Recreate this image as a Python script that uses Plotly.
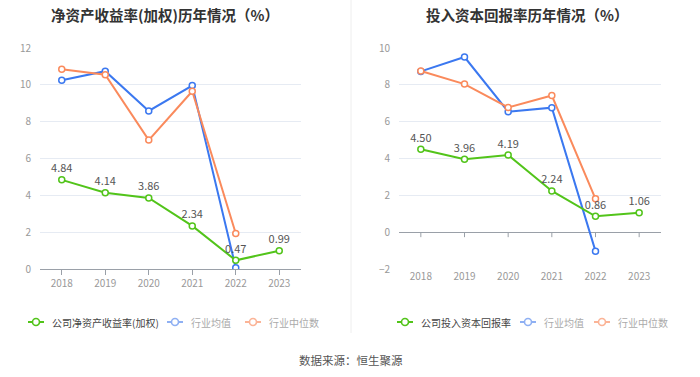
import plotly.graph_objects as go
from plotly.subplots import make_subplots

years = ["2018", "2019", "2020", "2021", "2022", "2023"]

roe_company = [4.84, 4.14, 3.86, 2.34, 0.47, 0.99]
roe_avg = [10.25, 10.74, 8.58, 9.96, 0.07, None]
roe_median = [10.84, 10.55, 7.00, 9.65, 1.93, None]

roic_company = [4.50, 3.96, 4.19, 2.24, 0.86, 1.06]
roic_avg = [8.73, 9.51, 6.54, 6.76, -1.03, None]
roic_median = [8.75, 8.04, 6.77, 7.42, 1.81, None]

title_left = "净资产收益率(加权)历年情况（%）"
title_right = "投入资本回报率历年情况（%）"
legend_left = ["公司净资产收益率(加权)", "行业均值", "行业中位数"]
legend_right = ["公司投入资本回报率", "行业均值", "行业中位数"]
source_text = "数据来源：恒生聚源"

GREEN = "#52c41a"
BLUE = "#3b78f0"
ORANGE = "#fa8a5c"
FONT = "Noto Sans CJK SC"

W, H = 700, 377
MT, MB = 48, 108
PH = H - MT - MB


def py(pix):
    return (H - MB - pix) / PH


def px(pix):
    return pix / W


fig = make_subplots(rows=1, cols=2, horizontal_spacing=0.1)


def add_series(col, company, avg, median):
    for vals, color in ((avg, BLUE), (median, ORANGE)):
        fig.add_trace(go.Scatter(
            x=years, y=vals, mode="lines+markers",
            line=dict(color=color, width=2),
            marker=dict(symbol="circle", size=6, color="white",
                        line=dict(color=color, width=1.5)),
            showlegend=False, hoverinfo="skip", connectgaps=False,
        ), row=1, col=col)
    fig.add_trace(go.Scatter(
        x=years, y=company, mode="lines+markers+text",
        text=[f"{v:.2f}" for v in company], textposition="top center",
        textfont=dict(family=FONT, size=11, color="#555"),
        line=dict(color=GREEN, width=2),
        marker=dict(symbol="circle", size=6, color="white",
                    line=dict(color=GREEN, width=1.5)),
        showlegend=False, hoverinfo="skip",
    ), row=1, col=col)


add_series(1, roe_company, roe_avg, roe_median)
add_series(2, roic_company, roic_avg, roic_median)

axis_font = dict(family=FONT, size=10, color="#999")
fig.update_xaxes(type="category", range=[-0.5, 5.5], tickfont=axis_font,
                 showgrid=False, zeroline=False, ticks="", ticklen=0)
fig.update_xaxes(domain=[px(40), px(301)], showline=True, linecolor="#9aa0a8",
                 linewidth=1, ticks="outside", ticklen=5, tickcolor="#9aa0a8",
                 row=1, col=1)
fig.update_xaxes(domain=[px(399), px(661)], showline=False, row=1, col=2)
fig.update_yaxes(showgrid=True, gridcolor="#e6ebf3", gridwidth=1,
                 tickfont=axis_font, ticklabelstandoff=8, showline=False)
fig.update_yaxes(range=[0, 12], dtick=2, zeroline=False, row=1, col=1)
fig.update_yaxes(range=[-2, 10], dtick=2, zeroline=True, zerolinecolor="#9aa0a8",
                 zerolinewidth=1, row=1, col=2)

shapes = []
# tick marks on the zero line of the right chart
for i in range(len(years)):
    shapes.append(dict(type="line", xref="x2", yref="y2", x0=i, x1=i,
                       ysizemode="pixel", yanchor=0, y0=0, y1=-5,
                       line=dict(color="#9aa0a8", width=1)))
# divider
shapes.append(dict(type="line", xref="paper", yref="paper",
                   x0=px(351), x1=px(351), y0=py(333), y1=py(0),
                   line=dict(color="#eeeeee", width=1)))

annotations = [
    dict(text=f"<b>{title_left}</b>", x=px(165), y=py(14), xref="paper", yref="paper",
         showarrow=False, font=dict(family=FONT, size=14.5, color="#333"),
         xanchor="center", yanchor="middle"),
    dict(text=f"<b>{title_right}</b>", x=px(527), y=py(14), xref="paper", yref="paper",
         showarrow=False, font=dict(family=FONT, size=14.5, color="#333"),
         xanchor="center", yanchor="middle"),
    dict(text=source_text, x=px(351), y=py(360), xref="paper", yref="paper",
         showarrow=False, font=dict(family=FONT, size=11.5, color="#555"),
         xanchor="center", yanchor="middle"),
]

LY = 322
legend_specs = [
    (legend_left, [28, 167, 245]),
    (legend_right, [397, 520, 594]),
]
legend_colors = [GREEN, "#8fb0f3", "#fbb497"]
text_colors = ["#444", "#aaa", "#aaa"]
for labels, starts in legend_specs:
    for lab, x0, c, tc in zip(labels, starts, legend_colors, text_colors):
        shapes.append(dict(type="line", xref="paper", yref="paper",
                           x0=px(x0), x1=px(x0 + 16), y0=py(LY), y1=py(LY),
                           line=dict(color=c, width=2)))
        shapes.append(dict(type="circle", xref="paper", yref="paper",
                           x0=px(x0 + 8 - 3.5), x1=px(x0 + 8 + 3.5),
                           y0=py(LY + 3.5), y1=py(LY - 3.5),
                           fillcolor="white", line=dict(color=c, width=1.6)))
        annotations.append(dict(text=lab, x=px(x0 + 22), y=py(LY), xref="paper",
                                yref="paper", showarrow=False, xanchor="left",
                                yanchor="middle",
                                font=dict(family=FONT, size=10, color=tc)))

fig.update_layout(
    width=W, height=H,
    margin=dict(l=0, r=0, t=MT, b=MB),
    paper_bgcolor="white", plot_bgcolor="white",
    shapes=shapes, annotations=annotations,
    showlegend=False,
    font=dict(family=FONT),
)

fig.write_html("out.html", config={"displayModeBar": False},
               post_script="document.body.style.margin='0';")
